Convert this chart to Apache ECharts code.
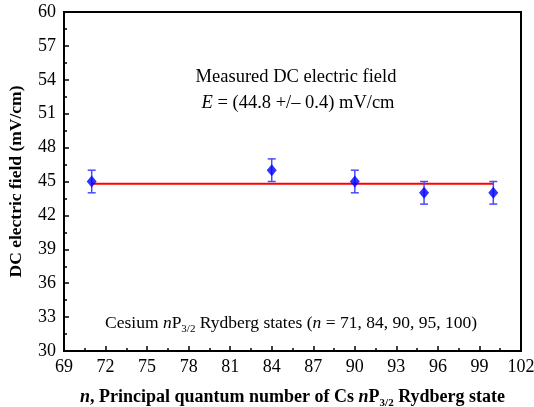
<!DOCTYPE html>
<html lang="en">
  <head>
    <meta charset="UTF-8" />
    <title>DC electric field</title>
    <style>
      html, body { margin: 0; padding: 0; background: #fff; }
      #main { width: 534px; height: 407px; }
    </style>
  </head>
  <body>
    <div id="main"></div>
    <script src="https://cdn.jsdelivr.net/npm/echarts@6/dist/echarts.min.js"></script>
    <script>
      // data
      const nStates = [71, 84, 90, 95, 100];
      const fieldValues = [45, 46, 45, 44, 44];
      const fieldErrors = [1, 1, 1, 1, 1];
      const fitValue = 44.8;
      const fitRange = [71, 100];

      const serif = "'Liberation Serif', 'DejaVu Serif', serif";
      const chart = echarts.init(document.getElementById("main"));

      const points = nStates.map((n, i) => [n, fieldValues[i]]);
      const bars = nStates.map((n, i) => [n, fieldValues[i] - fieldErrors[i], fieldValues[i] + fieldErrors[i]]);

      chart.setOption({
        animation: false,
        grid: {
          left: 64, right: 13, top: 12, bottom: 56,
          outerBoundsMode: "none",
          containLabel: false,
          show: true, borderColor: "#000", borderWidth: 2,
        },
        xAxis: {
          type: "value",
          min: 69, max: 102, interval: 3,
          name: "{i|n}, Principal quantum number of Cs {i|n}P{s|3/2} Rydberg state",
          nameLocation: "middle",
          nameGap: 35,
          nameTextStyle: {
            fontFamily: serif, fontSize: 18, fontWeight: "bold", color: "#000",
            rich: {
              i: { fontFamily: serif, fontSize: 18, fontWeight: "bold", fontStyle: "italic", color: "#000" },
              s: { fontFamily: serif, fontSize: 11, fontWeight: "bold", color: "#000", padding: [12, 0, 0, 0] },
            },
          },
          axisLine: { lineStyle: { color: "#000", width: 2 } },
          axisTick: { inside: true, length: 5, lineStyle: { color: "#000", width: 1.5 } },
          minorTick: { show: true, splitNumber: 2, length: 3, lineStyle: { color: "#000", width: 1.5 } },
          axisLabel: { fontFamily: serif, fontSize: 18, color: "#000", margin: 7 },
          splitLine: { show: false },
        },
        yAxis: {
          type: "value",
          min: 30, max: 60, interval: 3,
          name: "DC electric field (mV/cm)",
          nameLocation: "middle",
          nameGap: 39,
          nameTextStyle: { fontFamily: serif, fontSize: 17.5, fontWeight: "bold", color: "#000" },
          axisLine: { lineStyle: { color: "#000", width: 2 } },
          axisTick: { inside: true, length: 5, lineStyle: { color: "#000", width: 1.5 } },
          minorTick: { show: true, splitNumber: 2, length: 3, lineStyle: { color: "#000", width: 1.5 } },
          axisLabel: { fontFamily: serif, fontSize: 18, color: "#000", margin: 8 },
          splitLine: { show: false },
        },
        graphic: [
          {
            type: "text", x: 296, y: 77,
            style: {
              text: "Measured DC electric field", font: "18.5px " + serif, fill: "#000",
              textAlign: "center", textVerticalAlign: "middle",
            },
          },
          {
            type: "text", x: 298, y: 103,
            style: {
              text: "{i|E} = (44.8 +/– 0.4) mV/cm",
              font: "18.5px " + serif, fill: "#000",
              textAlign: "center", textVerticalAlign: "middle",
              rich: { i: { fontFamily: serif, fontSize: 18.5, fontStyle: "italic", fill: "#000" } },
            },
          },
          {
            type: "text", x: 291, y: 323,
            style: {
              text: "Cesium {i|n}P{s|3/2} Rydberg states ({i|n} = 71, 84, 90, 95, 100)",
              font: "17.5px " + serif, fill: "#000",
              textAlign: "center", textVerticalAlign: "middle",
              rich: {
                i: { fontFamily: serif, fontSize: 17.5, fontStyle: "italic", fill: "#000" },
                s: { fontFamily: serif, fontSize: 11, fill: "#000", padding: [12, 0, 0, 0] },
              },
            },
          },
        ],
        series: [
          {
            name: "fit",
            type: "line",
            data: fitRange.map((n) => [n, fitValue]),
            showSymbol: false,
            lineStyle: { color: "#ff0000", width: 2 },
            z: 2,
          },
          {
            name: "error",
            type: "custom",
            data: bars,
            z: 3,
            renderItem: function (params, api) {
              const x = api.value(0);
              const lo = api.coord([x, api.value(1)]);
              const hi = api.coord([x, api.value(2)]);
              const cap = 4;
              const style = { stroke: "#4a4aff", lineWidth: 1.5 };
              return {
                type: "group",
                children: [
                  { type: "line", shape: { x1: lo[0], y1: lo[1], x2: hi[0], y2: hi[1] }, style: style },
                  { type: "line", shape: { x1: lo[0] - cap, y1: lo[1], x2: lo[0] + cap, y2: lo[1] }, style: style },
                  { type: "line", shape: { x1: hi[0] - cap, y1: hi[1], x2: hi[0] + cap, y2: hi[1] }, style: style },
                ],
              };
            },
          },
          {
            name: "measured",
            type: "scatter",
            data: points,
            symbol: "diamond",
            symbolSize: [10, 12],
            itemStyle: { color: "#0000ff" },
            z: 4,
          },
        ],
      });
    </script>
  </body>
</html>
